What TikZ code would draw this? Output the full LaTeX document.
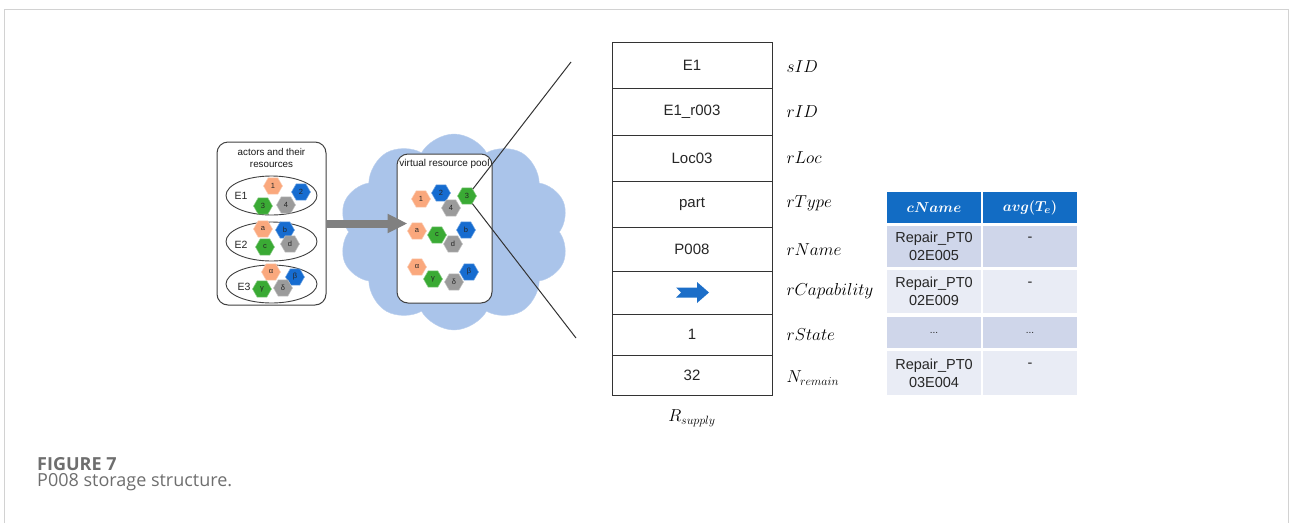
\documentclass[tikz,border=0pt]{standalone}
\usepackage{bm}
\usepackage{fontspec}
\setmainfont{Liberation Sans}
\newfontfamily\capfont{Open Sans}
\usetikzlibrary{shapes.geometric,shapes.symbols,arrows.meta}
\definecolor{framegray}{RGB}{210,210,210}
\definecolor{cloudblue}{RGB}{170,196,234}
\definecolor{hexorange}{RGB}{250,168,125}
\definecolor{hexblue}{RGB}{22,108,208}
\definecolor{hexgreen}{RGB}{58,170,52}
\definecolor{hexgray}{RGB}{155,155,155}
\definecolor{arrowgray}{RGB}{128,128,128}
\definecolor{capblue}{RGB}{28,110,200}
\definecolor{hdrblue}{RGB}{18,108,196}
\definecolor{rowdark}{RGB}{207,214,234}
\definecolor{rowlight}{RGB}{233,236,245}
\definecolor{captext}{RGB}{110,110,110}
\begin{document}
\begin{tikzpicture}[x=1pt,y=-1pt,
  hexa/.style={regular polygon, regular polygon sides=6, minimum size=19pt, inner sep=0pt, font=\fontsize{7.5}{7.5}\selectfont, text=black!85, line width=0.5pt},
  ho/.style={hexa, fill=hexorange, draw=hexorange!60!white},
  hb/.style={hexa, fill=hexblue, draw=hexblue!60!white},
  hg/.style={hexa, fill=hexgreen, draw=hexgreen!60!white},
  hy/.style={hexa, fill=hexgray, draw=hexgray!60!white},
  group/.style={ellipse, draw=black!75, line width=0.9pt, minimum width=91pt, minimum height=39pt, inner sep=0pt},
  rbox/.style={draw=black!75, line width=1pt, rounded corners=11pt, fill=white, inner sep=0pt},
  cell/.style={draw=black!80, line width=0.8pt, minimum width=160pt, inner sep=0pt, font=\fontsize{15}{18}\selectfont, text=black!85},
  flabel/.style={anchor=west, font=\fontsize{16.5}{18}\selectfont},
  hdr/.style={fill=hdrblue, text=white, minimum width=94pt, minimum height=31pt, inner sep=0pt, font=\fontsize{15}{16}\selectfont},
  tcell/.style={minimum width=94pt, inner sep=0pt, font=\fontsize{14.5}{18}\selectfont, text=black!85, align=center},
  zoomline/.style={draw=black!80, line width=1pt},
  bigarrow/.style={draw=arrowgray, line width=8pt, -{Triangle[length=20pt,width=18pt]}},
  elabel/.style={font=\fontsize{10.5}{12}\selectfont, text=black!85},
]
\useasboundingbox (0,0) rectangle (1290,523);
% frame
\draw[framegray, line width=1.5pt] (4.3,523) -- (4.3,9.3) -- (1288.7,9.3) -- (1288.7,523);

% cloud
\node[cloud, cloud puffs=10, cloud puff arc=120, aspect=1.2, fill=cloudblue, draw=cloudblue!80!white, minimum width=230pt, minimum height=196pt, inner sep=0pt] (cloud) at (454,232) {};

% actors box
\node[rbox, minimum width=109pt, minimum height=163pt] (actors) at (271.5,223.5) {};
\node[font=\fontsize{9.8}{11.5}\selectfont, align=center, text=black!90] (atitle) at (271.5,158) {actors and their\\resources};
\node[group] (e1) at (271.5,195.5) {};
\node[group] (e2) at (271.5,241.5) {};
\node[group, minimum height=38pt] (e3) at (271.5,284) {};
\node[elabel] (le1) at (241,196) {E1};
\node[elabel] (le2) at (241,245) {E2};
\node[elabel] (le3) at (244,287) {E3};
\node[ho] (a1) at (273,186) {1};
\node[hb] (a2) at (301,192) {2};
\node[hg] (a3) at (263,206) {3};
\node[hy] (a4) at (286,205) {4};
\node[ho] (aa) at (263,229) {a};
\node[hb] (ab) at (285,230) {b};
\node[hg] (ac) at (265,247) {c};
\node[hy] (ad) at (290,244) {d};
\node[ho] (aal) at (271,272) {α};
\node[hb] (abe) at (295,277) {β};
\node[hg] (aga) at (262,289) {γ};
\node[hy] (ade) at (283,288) {δ};

% pool box
\node[rbox, minimum width=95pt, minimum height=149pt] (pool) at (444.5,228.5) {};
\node[font=\fontsize{10}{12}\selectfont, text=black!90] (ptitle) at (444.5,164) {virtual resource pool};
\node[ho] (p1) at (421,199) {1};
\node[hb] (p2) at (441,193) {2};
\node[hy] (p4) at (451,208) {4};
\node[hg] (p3) at (467,196) {3};
\node[ho] (pa) at (417,231) {a};
\node[hg] (pc) at (437,235) {c};
\node[hy] (pd) at (453,244) {d};
\node[hb] (pb) at (466,230) {b};
\node[ho] (pal) at (417,267) {α};
\node[hg] (pga) at (433,279) {γ};
\node[hy] (pde) at (454,282) {δ};
\node[hb] (pbe) at (469,272) {β};

% big arrow
\draw[bigarrow, shorten >=-11pt] (actors.east) -- (actors.east -| pool.west);

% zoom lines
\coordinate (ztop) at (571,62);
\coordinate (zbot) at (576,338);
\draw[zoomline] (p3.50) -- (ztop);
\draw[zoomline] (p3.-55) -- (zbot);

% R_supply table
\node[cell, minimum height=46pt] (r1) at (692,65) {E1};
\node[cell, minimum height=47pt] (r2) at (692,111.5) {E1\_r003};
\node[cell, minimum height=46pt] (r3) at (692,158) {Loc03};
\node[cell, minimum height=46pt] (r4) at (692,204) {part};
\node[cell, minimum height=44pt] (r5) at (692,249) {P008};
\node[cell, minimum height=43pt] (r6) at (692,292.5) {};
\node[cell, minimum height=41pt] (r7) at (692,334.5) {1};
\node[cell, minimum height=40pt] (r8) at (692,375) {32};
\fill[capblue] ([shift={(-16,-5)}]r6.center) -- ([shift={(5,-5)}]r6.center) -- ([shift={(5,-10.5)}]r6.center) -- ([shift={(17,0)}]r6.center) -- ([shift={(5,10.5)}]r6.center) -- ([shift={(5,5)}]r6.center) -- ([shift={(-16,5)}]r6.center) -- ([shift={(-11,0)}]r6.center) -- cycle;
\node[flabel] (l1) at (783,67) {$sID$};
\node[flabel] (l2) at (783,112) {$rID$};
\node[flabel] (l3) at (783,158) {$rLoc$};
\node[flabel] (l4) at (783,203) {$rType$};
\node[flabel] (l5) at (783,250) {$rName$};
\node[flabel] (l6) at (783,291) {$rCapability$};
\node[flabel] (l7) at (783,335) {$rState$};
\node[flabel] (l8) at (783,378) {$N_{remain}$};
\node[font=\fontsize{16.5}{18}\selectfont] (rsup) at (692,418) {$R_{supply}$};

% capability table
\node[hdr] (h1) at (934,207.5) {$\bm{cName}$};
\node[hdr] (h2) at (1030,207.5) {$\bm{avg(T_e)}$};
\node[tcell, fill=rowdark, minimum height=41pt] (c11) at (934,246.5) {Repair\_PT0\\02E005};
\node[tcell, fill=rowdark, minimum height=41pt] (c12) at (1030,246.5) {\raisebox{-3pt}{-}\\\mbox{}};
\node[tcell, fill=rowlight, minimum height=43pt] (c21) at (934,291.5) {Repair\_PT0\\02E009};
\node[tcell, fill=rowlight, minimum height=43pt] (c22) at (1030,291.5) {\raisebox{-3pt}{-}\\\mbox{}};
\node[tcell, fill=rowdark, minimum height=31pt] (c31) at (934,332.5) {\fontsize{10}{12}\selectfont ...};
\node[tcell, fill=rowdark, minimum height=31pt] (c32) at (1030,332.5) {\fontsize{10}{12}\selectfont ...};
\node[tcell, fill=rowlight, minimum height=44pt] (c41) at (934,373) {Repair\_PT0\\03E004};
\node[tcell, fill=rowlight, minimum height=44pt] (c42) at (1030,373) {\raisebox{-3pt}{-}\\\mbox{}};

% caption
\node[anchor=base west, font=\capfont\bfseries\fontsize{18}{20}\selectfont, text=captext, inner sep=0pt] (fig) at (37,470) {FIGURE 7};
\node[anchor=base west, font=\capfont\fontsize{18}{20}\selectfont, text=captext, inner sep=0pt] (cap) at (37,486) {P008 storage structure.};
\end{tikzpicture}
\end{document}
